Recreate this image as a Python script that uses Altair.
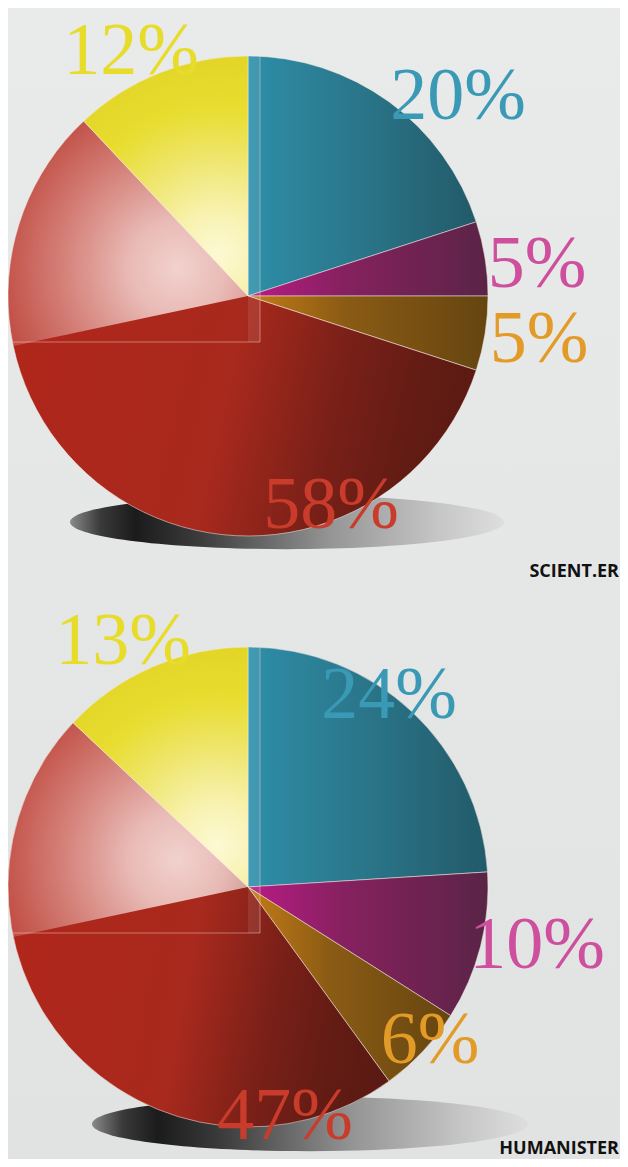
import math
import altair as alt
import pandas as pd

# ---------------- data ----------------
CATEGORIES = ["Blå", "Magenta", "Orange", "Röd", "Gul"]
SCIENTER = [20, 5, 5, 58, 12]
HUMANISTER = [24, 10, 6, 47, 13]
GROUPS = ["SCIENT.ER", "HUMANISTER"]
LABEL_COLORS = ["#3a9ab6", "#cd4f9d", "#e39b28", "#c93b2b", "#e7dc2a"]

# ---------------- layout (page pixels) ----------------
W, H = 612, 1151
M = 8
R = 240
CENTER = {"SCIENT.ER": (248, 296), "HUMANISTER": (248, 887)}
LABEL_XY = {
    "SCIENT.ER": [(458, 119), (537, 287), (539, 362), (331, 528), (131, 74)],
    "HUMANISTER": [(389, 718), (537, 968), (430, 1063), (285, 1139), (123, 664)],
}
TITLE_Y = {"SCIENT.ER": 577, "HUMANISTER": 1154}
SHADOW = {"SCIENT.ER": (287, 522, 434), "HUMANISTER": (310, 1124, 436)}

rows = []
for g, vals in zip(GROUPS, [SCIENTER, HUMANISTER]):
    cum = 0
    for c, v in zip(CATEGORIES, vals):
        rows.append({"group": g, "cat": c, "value": v, "start": cum, "end": cum + v})
        cum += v
df = pd.DataFrame(rows)

lab = []
for g, vals in zip(GROUPS, [SCIENTER, HUMANISTER]):
    for (x, y), c, v in zip(LABEL_XY[g], CATEGORIES, vals):
        lab.append({"group": g, "cat": c, "text": f"{v}%", "lx": x - M, "ly": y - M})
lab_df = pd.DataFrame(lab)
title_df = pd.DataFrame({"group": GROUPS, "ty": [TITLE_Y[g] - M for g in GROUPS]})


def stops(lst):
    return [alt.GradientStop(offset=o, color=c) for o, c in lst]


def lin(lst, x1=0, y1=0.5, x2=1, y2=0.5):
    return alt.LinearGradient(gradient="linear", stops=stops(lst), x1=x1, y1=y1, x2=x2, y2=y2)


def pt(cx, cy, r, a):
    return (cx + r * math.sin(math.radians(a)), cy - r * math.cos(math.radians(a)))


def arc_bbox(cx, cy, r, a0, a1):
    pts = [(cx, cy), pt(cx, cy, r, a0), pt(cx, cy, r, a1)]
    pts += [pt(cx, cy, r, k * 90) for k in range(5) if a0 < k * 90 < a1]
    xs, ys = zip(*pts)
    return min(xs), min(ys), max(xs), max(ys)


def radial(bbox, px, py, rpx, st):
    x0, y0, x1, y1 = bbox
    w, h = x1 - x0, y1 - y0
    s = max(w, h)
    ox, oy = x0 + (w - s) / 2, y0 + (h - s) / 2
    nx, ny = (px - ox) / s, (py - oy) / s
    return alt.RadialGradient(gradient="radial", stops=stops(st),
                              x1=nx, y1=ny, r1=0, x2=nx, y2=ny, r2=rpx / s)


BASE_FILL = {
    "Blå": lin([(0, "#2f93ae"), (0.08, "#2d8aa3"), (0.5, "#2a7589"), (1, "#225a69")]),
    "Magenta": lin([(0, "#b81b86"), (0.4, "#86215f"), (1, "#5a2446")]),
    "Orange": lin([(0, "#c47c16"), (0.4, "#8b5b14"), (1, "#654510")]),
    "Röd": lin([(0, "#b1261b"), (0.5, "#a8291d"), (0.72, "#7a2018"), (0.88, "#641c14"), (1, "#5b1a13")],
               x1=0, y1=0.4, x2=1, y2=0.6),
}

theta_scale = alt.Scale(domain=[0, 100], range=[0, 2 * math.pi])
one = alt.Data(values=[{"k": 1}])

layers = []
bg = alt.Chart(one).mark_rect(
    fill=lin([(0, "#e9eaea"), (1, "#e1e2e2")], x1=0, y1=0, x2=0, y2=1)
).encode(x=alt.value(0), x2=alt.value(W), y=alt.value(0), y2=alt.value(H))
layers.append(bg)

for g in GROUPS:
    sx, sy, sw = SHADOW[g]
    shadow = alt.Chart(one).mark_point(
        shape="M-1,0A1,0.125,0,1,1,1,0A1,0.125,0,1,1,-1,0Z",
        filled=True, opacity=1, strokeOpacity=0,
        fill=lin([(0, "#8a8a8a"), (0.07, "#3a3a3a"), (0.15, "#1b1b1b"), (0.3, "#3c3c3c"),
                  (0.6, "#959595"), (0.85, "#c6c6c6"), (1, "#dedede")]),
    ).encode(x=alt.value(sx - M), y=alt.value(sy - M), size=alt.value(sw * sw))
    layers.append(shadow)

for g, vals in zip(GROUPS, [SCIENTER, HUMANISTER]):
    cx, cy = CENTER[g]
    ccx, ccy = cx - M, cy - M
    red_end = sum(vals[:4]) / 100 * 360
    yb = arc_bbox(ccx, ccy, R, red_end, 360)
    fills = dict(BASE_FILL)
    fills["Gul"] = radial(yb, ccx - 30, ccy - 42, 235, [
        (0, "#fcf9d4"), (0.18, "#f8f2b0"), (0.4, "#efe670"), (0.62, "#e8dd30"),
        (0.85, "#e2d526"), (1, "#dccf2a")])
    for c in CATEGORIES:
        sl = alt.Chart(df).transform_filter(
            f"datum.group == '{g}' && datum.cat == '{c}'"
        ).mark_arc(fill=fills[c], stroke="#f4ebe6", strokeWidth=0.7, strokeOpacity=0.75).encode(
            theta=alt.Theta("start:Q", scale=theta_scale),
            theta2=alt.Theta2("end:Q"),
            x=alt.value(ccx), y=alt.value(ccy), radius=alt.value(R),
        )
        layers.append(sl)
    # glossy highlight on the red slice (upper-left part)
    a0 = 258
    bb = arc_bbox(ccx, ccy, R, a0, red_end)
    hl = radial(bb, ccx - 70, ccy - 28, 240, [
        (0, "rgba(255,242,240,0.84)"), (0.2, "rgba(255,238,236,0.74)"),
        (0.5, "rgba(255,230,226,0.45)"), (0.78, "rgba(255,228,224,0.18)"),
        (1, "rgba(255,228,224,0.05)")])
    layers.append(alt.Chart(one).mark_arc(fill=hl, strokeOpacity=0).encode(
        theta=alt.value(math.radians(a0)), theta2=alt.value(math.radians(red_end)),
        x=alt.value(ccx), y=alt.value(ccy), radius=alt.value(R)))
    layers.append(alt.Chart(one).mark_rect(fill="white", opacity=0.09).encode(
        x=alt.value(ccx), x2=alt.value(ccx + 12),
        y=alt.value(ccy - R + 1), y2=alt.value(ccy + 46)))
    layers.append(alt.Chart(one).mark_rule(color="#ffd8cc", opacity=0.45, strokeWidth=1).encode(
        x=alt.value(ccx + 12), y=alt.value(ccy - R + 1), y2=alt.value(ccy + 46)))
    layers.append(alt.Chart(one).mark_rule(color="#ffd8cc", opacity=0.45, strokeWidth=1).encode(
        x=alt.value(ccx - 235), x2=alt.value(ccx + 12), y=alt.value(ccy + 46)))

labels = alt.Chart(lab_df).mark_text(
    font="Liberation Serif", fontSize=74, align="center", baseline="alphabetic"
).encode(
    x=alt.X("lx:Q", scale=None, axis=None),
    y=alt.Y("ly:Q", scale=None, axis=None),
    text="text:N",
    color=alt.Color("cat:N", scale=alt.Scale(domain=CATEGORIES, range=LABEL_COLORS), legend=None),
)
layers.append(labels)

titles = alt.Chart(title_df).mark_text(
    font="Open Sans", fontSize=18, fontWeight="bold", align="right", baseline="alphabetic",
    color="#111111"
).encode(x=alt.value(W - 1), y=alt.Y("ty:Q", scale=None, axis=None), text="group:N")
layers.append(titles)

chart = alt.layer(*layers).properties(
    width=W, height=H, padding=0,
    autosize=alt.AutoSizeParams(type="none"),
    background="#e7e8e8",
).configure_view(stroke=None)

chart.save("out.html", embed_options={"renderer": "svg", "actions": False})
